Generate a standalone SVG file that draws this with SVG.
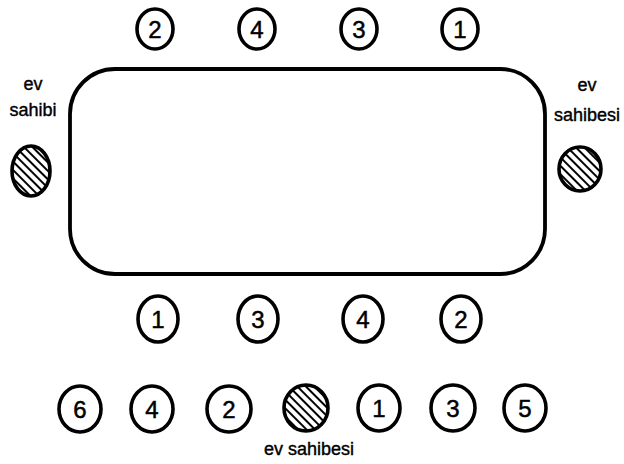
<svg xmlns="http://www.w3.org/2000/svg" width="624" height="464" viewBox="0 0 624 464">
<style>
.seat{fill:#fff;stroke:#000;stroke-width:3.6}
.host{fill:url(#hatch);stroke:#000;stroke-width:3.6}
.num{font-family:"Liberation Sans",Arial,sans-serif;font-size:24px;text-anchor:middle;fill:#000;stroke:#000;stroke-width:0.5}
.lbl{font-family:"Liberation Sans",Arial,sans-serif;font-size:18px;text-anchor:middle;fill:#000;stroke:#000;stroke-width:0.4}
.table{fill:none;stroke:#000;stroke-width:3.8}
</style>
<defs>
<pattern id="hatch" patternUnits="userSpaceOnUse" width="6" height="6" patternTransform="rotate(45)">
<rect width="6" height="6" fill="#fff"/>
<line x1="0" y1="3" x2="6" y2="3" stroke="#000" stroke-width="2"/>
</pattern>
</defs>
<g id="table"><rect class="table" x="70" y="69" width="475" height="205" rx="45" ry="45"/></g>
<g id="top-2"><ellipse class="seat" cx="155" cy="29" rx="18" ry="20"/><text class="num" x="155" y="38">2</text></g>
<g id="top-4"><ellipse class="seat" cx="257" cy="29" rx="18" ry="20"/><text class="num" x="257" y="38">4</text></g>
<g id="top-3"><ellipse class="seat" cx="359" cy="29" rx="18" ry="20"/><text class="num" x="359" y="38">3</text></g>
<g id="top-1"><ellipse class="seat" cx="460" cy="29" rx="18" ry="20"/><text class="num" x="460" y="38">1</text></g>
<g id="bot-1"><ellipse class="seat" cx="158" cy="319" rx="20" ry="23"/><text class="num" x="158" y="328">1</text></g>
<g id="bot-3"><ellipse class="seat" cx="258" cy="319" rx="20" ry="23"/><text class="num" x="258" y="328">3</text></g>
<g id="bot-4"><ellipse class="seat" cx="363" cy="319" rx="20" ry="23"/><text class="num" x="363" y="328">4</text></g>
<g id="bot-2"><ellipse class="seat" cx="461" cy="319" rx="20" ry="23"/><text class="num" x="461" y="328">2</text></g>
<g id="left-host"><text class="lbl" x="33" y="90">ev</text><text class="lbl" x="33" y="116">sahibi</text><ellipse class="host" cx="31" cy="171" rx="19" ry="25"/></g>
<g id="right-host"><text class="lbl" x="587" y="91">ev</text><text class="lbl" x="587" y="121">sahibesi</text><ellipse class="host" cx="580" cy="169" rx="21" ry="22"/></g>
<g id="row-6"><ellipse class="seat" cx="80" cy="409" rx="21" ry="23"/><text class="num" x="80" y="418">6</text></g>
<g id="row-4"><ellipse class="seat" cx="152" cy="409" rx="21" ry="23"/><text class="num" x="152" y="418">4</text></g>
<g id="row-2"><ellipse class="seat" cx="229" cy="409" rx="22" ry="23"/><text class="num" x="229" y="418">2</text></g>
<g id="row-host"><ellipse class="host" cx="306" cy="408" rx="22" ry="23"/><text class="lbl" x="309" y="455">ev sahibesi</text></g>
<g id="row-1"><ellipse class="seat" cx="379" cy="408" rx="21" ry="23"/><text class="num" x="379" y="417">1</text></g>
<g id="row-3"><ellipse class="seat" cx="453" cy="408" rx="22" ry="23"/><text class="num" x="453" y="417">3</text></g>
<g id="row-5"><ellipse class="seat" cx="525" cy="408" rx="21" ry="23"/><text class="num" x="525" y="417">5</text></g>
<g id="connectors"></g>
</svg>
